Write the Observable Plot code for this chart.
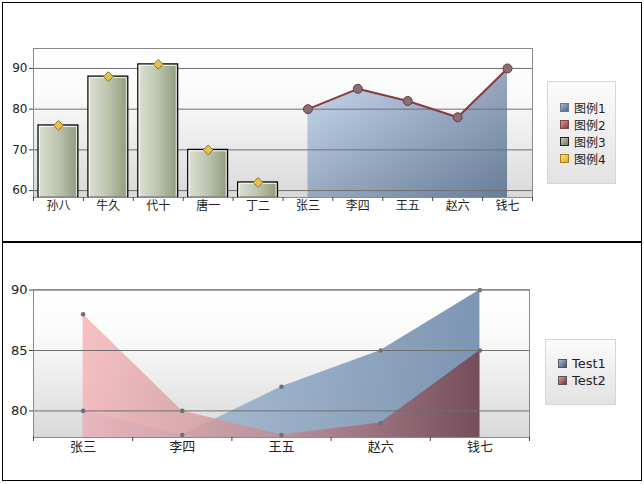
<!DOCTYPE html>
<html><head><meta charset="utf-8">
<script src="https://cdn.jsdelivr.net/npm/d3@7"></script>
<script src="https://cdn.jsdelivr.net/npm/@observablehq/plot@0.6"></script>
<style>
body{margin:0;background:#fff;}
#wrap{position:relative;width:644px;height:484px;overflow:hidden;font-family:"DejaVu Sans","Noto Sans CJK SC",sans-serif;}
.frameBox{position:absolute;left:2px;top:2px;width:638px;height:477px;border:1px solid #000;box-sizing:content-box;}
.divider{position:absolute;left:2px;top:241px;width:640px;height:2px;background:#000;}
.chart{position:absolute;left:0;}
.legend{position:absolute;border:1px solid #d6d6d6;background:linear-gradient(#fbfbfb,#e2e2e2);box-sizing:border-box;display:flex;flex-direction:column;justify-content:center;padding-left:12px;font-size:12px;color:#222;}
.legend .item{display:flex;align-items:center;height:17px;}
.legend .sw{width:7px;height:7px;margin-right:5px;border:1px solid #333;}
</style></head>
<body>
<div id="wrap">
  <div class="frameBox"></div>
  <div class="divider"></div>
  <div id="top" class="chart" style="top:0"></div>
  <div id="bot" class="chart" style="top:243px"></div>
  <div id="leg1" class="legend" style="left:547px;top:81px;width:69px;height:103px;"></div>
  <div id="leg2" class="legend" style="left:545px;top:339px;width:71px;height:66px;font-size:13px;"></div>
</div>
<script>
// ---- data ----
const topCats = ["孙八","牛久","代十","唐一","丁二","张三","李四","王五","赵六","钱七"];
const barCats = ["孙八","牛久","代十","唐一","丁二"];
const barVals = [76, 88, 91, 70, 62];          // 图例3
const diamondVals = [76, 88, 91, 70, 62];      // 图例4
const areaCats = ["张三","李四","王五","赵六","钱七"];
const areaVals = [80, 85, 82, 78, 90];         // 图例1
const lineVals = [80, 85, 82, 78, 90];         // 图例2
const topYTicks = [60, 70, 80, 90];
const topLegend = ["图例1","图例2","图例3","图例4"];

const botCats = ["张三","李四","王五","赵六","钱七"];
const test1 = [80, 78, 82, 85, 90];
const test2 = [88, 80, 78, 79, 85];
const botYTicks = [80, 85, 90];
const botLegend = ["Test1","Test2"];

// ---- build ----
const W = 644;
const font = '"DejaVu Sans","Noto Sans CJK SC",sans-serif';
const bars = barCats.map((c,i)=>({c, v: barVals[i]}));
const diamonds = barCats.map((c,i)=>({c, v: diamondVals[i]}));
const areaData = areaCats.map((c,i)=>({c, v: areaVals[i]}));
const lineData = areaCats.map((c,i)=>({c, v: lineVals[i]}));

const tML = 33, tMR = 112, tMT = 48, tMB = 44, tH = 241;
const topYDom = [58.3, 94.9];
const bwTop = (W - tML - tMR) / topCats.length;

const p1 = Plot.plot({
  width: W, height: tH, marginLeft: tML, marginRight: tMR, marginTop: tMT, marginBottom: tMB,
  style: {background: "transparent", fontSize: "12px", fontFamily: font, color: "#222", overflow: "visible"},
  x: {type: "band", domain: topCats, padding: 0, round: false},
  y: {domain: topYDom},
  marks: [
    Plot.frame({fill: "url(#bgTop)"}),
    Plot.areaY(areaData, {x: "c", y1: topYDom[0], y2: "v", fill: "url(#gArea)"}),
    Plot.ruleY(topYTicks, {stroke: "#6f6f6f", strokeWidth: 1}),
    Plot.barY(bars, {x: "c", y1: topYDom[0], y2: "v", fill: "url(#gBar)", stroke: "#000", strokeWidth: 1.2, insetLeft: 5, insetRight: 5}),
    Plot.barY(bars, {x: "c", y1: topYDom[0], y2: "v", fill: "none", stroke: "#fff", strokeOpacity: 0.8, strokeWidth: 1, insetLeft: 6.5, insetRight: 6.5, insetTop: 1.5}),
    Plot.line(lineData, {x: "c", y: "v", stroke: "#8a3a3e", strokeWidth: 2}),
    Plot.dot(lineData, {x: "c", y: "v", r: 4.5, fill: "#8d6d72", stroke: "#5c4044", strokeWidth: 1}),
    Plot.dot(diamonds, {x: "c", y: "v", symbol: "diamond2", r: 4.4, fill: "#e6c24c", stroke: "#8c7231", strokeWidth: 1}),
    Plot.frame({stroke: "#8a8a8a"}),
    Plot.axisY({ticks: topYTicks, tickSize: 4, tickPadding: 2, label: null, stroke: "#444"}),
    Plot.axisX({tickSize: 0, tickPadding: 4, label: null}),
    Plot.axisX({tickSize: 4, tickFormat: () => "", dx: -bwTop/2, label: null, stroke: "#444"}),
    Plot.axisX({ticks: [topCats[topCats.length-1]], tickSize: 4, tickFormat: () => "", dx: bwTop/2, label: null, stroke: "#444"})
  ]
});
d3.select(p1).insert("defs", ":first-child").html(`
  <linearGradient id="bgTop" x1="0" y1="0" x2="0" y2="1">
    <stop offset="0" stop-color="#ffffff"/><stop offset="0.3" stop-color="#fbfbfb"/><stop offset="1" stop-color="#d9d9d9"/>
  </linearGradient>
  <linearGradient id="gArea" x1="0" y1="0" x2="1" y2="1">
    <stop offset="0" stop-color="#cbdcf2"/><stop offset="0.5" stop-color="#98aac2"/><stop offset="1" stop-color="#687d97"/>
  </linearGradient>
  <linearGradient id="gBar" x1="0" y1="0" x2="1" y2="0">
    <stop offset="0" stop-color="#dce1d3"/><stop offset="0.5" stop-color="#bcc4ae"/><stop offset="1" stop-color="#8e9a7c"/>
  </linearGradient>`);
document.getElementById("top").appendChild(p1);

const t1 = botCats.map((c,i)=>({c, v: test1[i]}));
const t2 = botCats.map((c,i)=>({c, v: test2[i]}));
const bML = 33, bMR = 115, bMT = 46, bMB = 44, bH = 238;
const botYDom = [77.8, 90.05];
const bwBot = (W - bML - bMR) / botCats.length;

const p2 = Plot.plot({
  width: W, height: bH, marginLeft: bML, marginRight: bMR, marginTop: bMT, marginBottom: bMB,
  style: {background: "transparent", fontSize: "12px", fontFamily: font, color: "#222", overflow: "visible"},
  x: {type: "band", domain: botCats, padding: 0, round: false},
  y: {domain: botYDom},
  marks: [
    Plot.frame({fill: "url(#bgBot)"}),
    Plot.areaY(t1, {x: "c", y1: botYDom[0], y2: "v", fill: "url(#gT1)"}),
    Plot.areaY(t2, {x: "c", y1: botYDom[0], y2: "v", fill: "url(#gT2)"}),
    Plot.ruleY(botYTicks, {stroke: "#6f6f6f", strokeWidth: 1}),
    Plot.dot(t1, {x: "c", y: "v", r: 2.3, fill: "#707070"}),
    Plot.dot(t2, {x: "c", y: "v", r: 2.3, fill: "#707070"}),
    Plot.frame({stroke: "#8a8a8a"}),
    Plot.axisY({ticks: botYTicks, tickSize: 4, tickPadding: 2, label: null, stroke: "#444", fontSize: 13}),
    Plot.axisX({tickSize: 0, tickPadding: 4, label: null, fontSize: 13}),
    Plot.axisX({tickSize: 4, tickFormat: () => "", dx: -bwBot/2, label: null, stroke: "#444"}),
    Plot.axisX({ticks: [botCats[botCats.length-1]], tickSize: 4, tickFormat: () => "", dx: bwBot/2, label: null, stroke: "#444"})
  ]
});
d3.select(p2).insert("defs", ":first-child").html(`
  <linearGradient id="bgBot" x1="0" y1="0" x2="0" y2="1">
    <stop offset="0" stop-color="#ffffff"/><stop offset="0.3" stop-color="#fbfbfb"/><stop offset="1" stop-color="#d9d9d9"/>
  </linearGradient>
  <linearGradient id="gT1" x1="0" y1="0" x2="1" y2="0">
    <stop offset="0" stop-color="#b3c5dc" stop-opacity="0.9"/><stop offset="1" stop-color="#7690ae" stop-opacity="0.95"/>
  </linearGradient>
  <linearGradient id="gT2" x1="0" y1="0" x2="1" y2="0">
    <stop offset="0" stop-color="#f4b2b6" stop-opacity="0.8"/><stop offset="0.5" stop-color="#c08a90" stop-opacity="0.8"/><stop offset="1" stop-color="#74444f" stop-opacity="0.88"/>
  </linearGradient>`);
document.getElementById("bot").appendChild(p2);

// ---- legends ----
const swTop = ["linear-gradient(135deg,#9fb4d0,#4e6684)","linear-gradient(135deg,#d89a9a,#8a3a3e)","linear-gradient(135deg,#c4ccb4,#6e7a5c)","linear-gradient(135deg,#fbe27a,#e0b020)"];
const swBorder = ["#6a7a90","#7a4a4a","#222","#a08020"];
d3.select("#leg1").selectAll("div").data(topLegend).join("div").attr("class","item")
  .html((d,i)=>`<span class="sw" style="background:${swTop[i]};border-color:${swBorder[i]}"></span><span>${d}</span>`);
const swBot = ["linear-gradient(135deg,#a8bcd6,#3e5a7c)","linear-gradient(135deg,#d8a0a0,#7a3038)"];
d3.select("#leg2").selectAll("div").data(botLegend).join("div").attr("class","item")
  .html((d,i)=>`<span class="sw" style="background:${swBot[i]};border-color:#555"></span><span>${d}</span>`);
</script>
</body></html>
